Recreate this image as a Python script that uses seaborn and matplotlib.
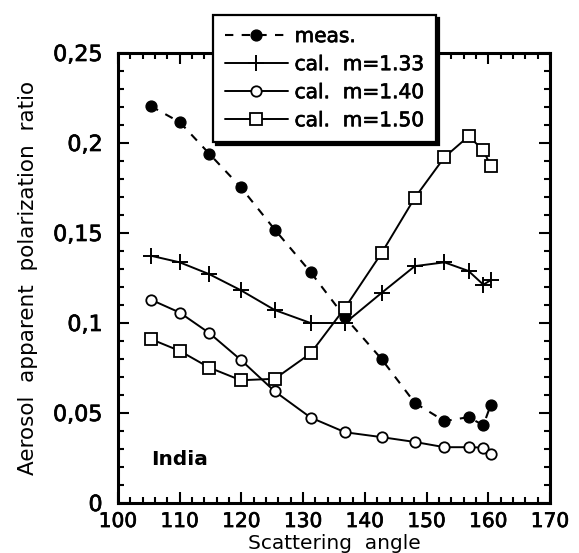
import matplotlib
matplotlib.use("Agg")
import matplotlib.pyplot as plt
import matplotlib.patheffects as pe
from matplotlib.ticker import MultipleLocator
import seaborn as sns

# Scattering angles (degrees) shared by all series
angle = [105.3, 110.0, 114.8, 119.9, 125.4, 131.2, 136.8, 142.7, 148.1, 152.9, 156.8, 159.2, 160.4]

# Measured apparent polarization ratio
meas = [0.2205, 0.2116, 0.1940, 0.1754, 0.1519, 0.1283, 0.1031, 0.0800, 0.0556, 0.0455, 0.0477, 0.0432, 0.0545]

# Calculated ratios for three refractive indices
cal_133 = [0.1374, 0.1337, 0.1271, 0.1182, 0.1072, 0.1000, 0.1000, 0.1167, 0.1316, 0.1337, 0.1289, 0.1213, 0.1238]
cal_140 = [0.1130, 0.1058, 0.0944, 0.0795, 0.0620, 0.0475, 0.0393, 0.0366, 0.0339, 0.0310, 0.0310, 0.0308, 0.0273]
cal_150 = [0.0911, 0.0845, 0.0752, 0.0682, 0.0690, 0.0831, 0.1085, 0.1388, 0.1696, 0.1921, 0.2037, 0.1961, 0.1870]

labels = ["meas.", "cal.  m=1.33", "cal.  m=1.40", "cal.  m=1.50"]

x_ticks = [100, 110, 120, 130, 140, 150, 160, 170]
y_ticks = [0, 0.05, 0.1, 0.15, 0.2, 0.25]
y_tick_labels = ["0", "0,05", "0,1", "0,15", "0,2", "0,25"]

sns.set_theme(style="ticks")
plt.rcParams["font.family"] = ["DejaVu Sans"]

# slightly heavier strokes for the text
heavy = [pe.withStroke(linewidth=0.5, foreground="black")]

fig = plt.figure(figsize=(5.79, 5.53), dpi=100)
ax = fig.add_axes([118 / 579, 1 - 503 / 553, 432 / 579, 450 / 553])

common = dict(ax=ax, color="black", errorbar=None, markeredgecolor="black")

sns.lineplot(x=angle, y=meas, linestyle=(0, (4, 4)), linewidth=1.5, marker="o",
             markersize=7.8, markerfacecolor="black", markeredgewidth=1.0,
             label=labels[0], **common)
sns.lineplot(x=angle, y=cal_133, linewidth=1.4, marker="+", markersize=11,
             markeredgewidth=1.4, label=labels[1], **common)
sns.lineplot(x=angle, y=cal_140, linewidth=1.4, marker="o", markersize=7.5,
             markerfacecolor="white", markeredgewidth=1.3, label=labels[2], **common)
sns.lineplot(x=angle, y=cal_150, linewidth=1.4, marker="s", markersize=8.2,
             markerfacecolor="white", markeredgewidth=1.3, label=labels[3], **common)

ax.set_xlim(100, 170)
ax.set_ylim(0, 0.25)
ax.set_xticks(x_ticks)
ax.set_yticks(y_ticks, labels=y_tick_labels)
ax.xaxis.set_minor_locator(MultipleLocator(2))
ax.yaxis.set_minor_locator(MultipleLocator(0.01))

for side in ["left", "right", "top", "bottom"]:
    ax.spines[side].set_visible(True)
    ax.spines[side].set_linewidth(2.2)
    ax.spines[side].set_color("black")

ax.tick_params(which="both", direction="in", top=True, right=True,
               colors="black", width=1.5)
ax.tick_params(which="major", length=8)
ax.tick_params(which="minor", length=4)
ax.tick_params(axis="x", which="major", pad=6.5, labelsize=14.5)
ax.tick_params(axis="y", which="major", pad=11, labelsize=16)
for t in ax.get_xticklabels() + ax.get_yticklabels():
    t.set_path_effects(heavy)

ax.set_xlabel("Scattering  angle", fontsize=14.5, color="black")
ax.set_ylabel("Aerosol  apparent  polarization  ratio", fontsize=15.5, color="black")
ax.xaxis.set_label_coords(0.5, -0.068)
ax.yaxis.set_label_coords(-0.185, 0.5)

ax.text(105.4, 0.024, "India", fontsize=14.5, fontweight="bold", color="black",
        ha="left", va="center")

leg = ax.legend(loc="upper left", bbox_to_anchor=(213 / 579, 1 - 15 / 553),
                bbox_transform=fig.transFigure, borderaxespad=0, fontsize=14.5,
                frameon=True, fancybox=False, framealpha=1, edgecolor="black",
                handlelength=3.1, handletextpad=0.35, labelspacing=0.45,
                borderpad=0.6, shadow={"color": "black", "alpha": 1})
leg.get_frame().set_linewidth(1.6)
for t in leg.get_texts():
    t.set_color("black")
    t.set_path_effects(heavy)

fig.savefig("out.png", dpi=100, facecolor="white")
